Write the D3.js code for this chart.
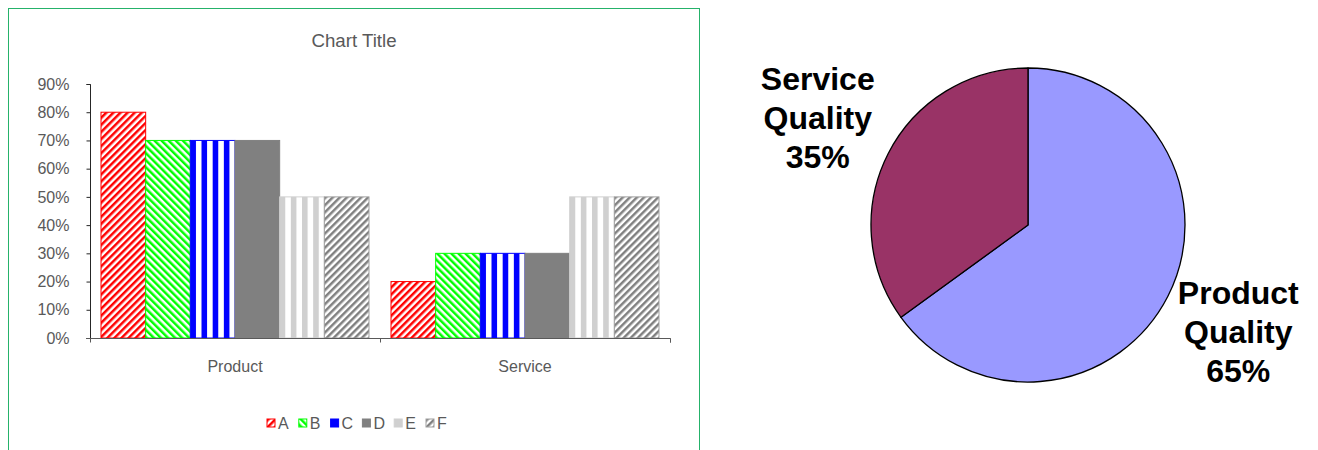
<!DOCTYPE html>
<html>
<head>
<meta charset="utf-8">
<script src="https://cdn.jsdelivr.net/npm/d3@7"></script>
<style>
  body { margin: 0; background: #fff; }
  svg { display: block; font-family: "Liberation Sans", Arial, sans-serif; }
</style>
</head>
<body>
<svg id="chart" width="1318" height="450"></svg>
<script>
// bar chart data
var categories = ["Product", "Service"];
var seriesNames = ["A", "B", "C", "D", "E", "F"];
var productValues = [0.8, 0.7, 0.7, 0.7, 0.5, 0.5];
var serviceValues = [0.2, 0.3, 0.3, 0.3, 0.5, 0.5];
var yTicks = [0, 0.1, 0.2, 0.3, 0.4, 0.5, 0.6, 0.7, 0.8, 0.9];

// pie data
var pieLabels = ["Product Quality", "Service Quality"];
var pieValues = [65, 35];

var svg = d3.select("#chart"),
    defs = svg.append("defs");

// fill patterns, one per series
function _stripes(id, color, angle, size) {
  var p = defs.append("pattern")
      .attr("id", id)
      .attr("patternUnits", "userSpaceOnUse")
      .attr("width", size).attr("height", size)
      .attr("patternTransform", "rotate(" + angle + ")");
  p.append("rect").attr("width", size).attr("height", size).attr("fill", "#fff");
  p.append("rect").attr("width", size / 2).attr("height", size).attr("fill", color);
}

function _vstripes(id, color) {
  var p = defs.append("pattern")
      .attr("id", id)
      .attr("patternUnits", "objectBoundingBox")
      .attr("width", 0.25).attr("height", 1);
  p.append("rect").attr("width", 20).attr("height", 400).attr("fill", "#fff");
  p.append("rect").attr("width", 5.6).attr("height", 400).attr("fill", color);
}

_stripes("patA", "#ff0000", 45, 5);
_stripes("patB", "#00ff00", -45, 5);
_vstripes("patC", "#0000ff");
_vstripes("patE", "#d0d0d0");
_stripes("patF", "#808080", 45, 5);

var fills = ["url(#patA)", "url(#patB)", "url(#patC)", "#808080", "url(#patE)", "url(#patF)"],
    strokes = ["#ff0000", "#00ff00", "#0000ff", "#808080", "#d0d0d0", "#a0a0a0"];

// frame round the bar chart
svg.append("rect")
   .attr("x", 8.5).attr("y", 8.5)
   .attr("width", 691).attr("height", 460)
   .attr("fill", "none")
   .attr("stroke", "#25b26a");

svg.append("text")
   .attr("x", 354).attr("y", 47)
   .attr("text-anchor", "middle")
   .attr("font-size", 18.7)
   .attr("fill", "#595959")
   .text("Chart Title");

var y = d3.scaleLinear().domain([0, 0.9]).range([338, 84]),
    x0 = d3.scaleBand().domain(categories).range([90, 670]),
    x1 = d3.scaleBand().domain(seriesNames).range([11, x0.bandwidth() - 11]);

var data = categories.map(function (c, i) {
  var vals = i == 0 ? productValues : serviceValues;
  return { cat: c, bars: seriesNames.map(function (s, j) { return { s: s, i: j, v: vals[j] }; }) };
});

// y axis
var yAxis = svg.append("g")
   .attr("transform", "translate(90.5,0)")
   .call(d3.axisLeft(y).tickValues(yTicks).tickFormat(d3.format(".0%")).tickSize(4));
yAxis.select(".domain").attr("stroke", "#262626").attr("d", "M-4,84.5H0V338.5");
yAxis.selectAll(".tick line").attr("stroke", "#262626");
yAxis.selectAll(".tick text")
     .attr("x", -21)
     .attr("font-size", 16)
     .attr("font-family", "Liberation Sans, Arial, sans-serif")
     .attr("fill", "#595959");

var groups = svg.selectAll("g.cat").data(data).enter()
    .append("g")
    .attr("class", "cat")
    .attr("transform", function (d) { return "translate(" + x0(d.cat) + ",0)"; });

groups.selectAll("rect").data(function (d) { return d.bars; }).enter()
      .append("rect")
      .attr("x", function (b) { return x1(b.s); })
      .attr("y", function (b) { return y(b.v); })
      .attr("width", x1.bandwidth())
      .attr("height", function (b) { return y(0) - y(b.v); })
      .attr("fill", function (b) { return fills[b.i]; })
      .attr("stroke", function (b) { return strokes[b.i]; })
      .attr("stroke-width", 1);

// x axis
var xAxis = svg.append("g")
   .attr("transform", "translate(0,338.5)")
   .call(d3.axisBottom(x0).tickSize(0).tickPadding(22));
xAxis.select(".domain").attr("stroke", "#595959").attr("d", "M86,0H670.5V4");
xAxis.selectAll(".tick text")
     .attr("font-size", 16)
     .attr("font-family", "Liberation Sans, Arial, sans-serif")
     .attr("fill", "#595959");
[90.5, 380.5, 670.5].forEach(function (tx) {
  xAxis.append("line").attr("x1", tx).attr("x2", tx).attr("y1", 0).attr("y2", 4)
       .attr("stroke", "#595959");
});

// legend
var legend = svg.selectAll("g.legend").data(seriesNames).enter()
    .append("g")
    .attr("class", "legend")
    .attr("transform", function (d, i) { return "translate(" + (267 + i * 31.8) + ",419)"; });
legend.append("rect")
      .attr("width", 8).attr("height", 8)
      .attr("fill", function (d, i) { return fills[i] == "url(#patC)" || fills[i] == "url(#patE)" ? strokes[i] : fills[i]; })
      .attr("stroke", function (d, i) { return strokes[i]; })
      .attr("stroke-width", 1);
legend.append("text")
      .attr("x", 11).attr("y", 9.5)
      .attr("font-size", 16)
      .attr("fill", "#595959")
      .text(function (d) { return d; });

// pie
var cx = 1028, cy = 225, r = 157;
var pie = d3.pie().sort(null)(pieValues),
    arc = d3.arc().innerRadius(0).outerRadius(r),
    labelArc = d3.arc().innerRadius(236).outerRadius(236),
    pieColors = ["#9999ff", "#993366"];

var pg = svg.append("g").attr("transform", "translate(" + cx + "," + cy + ")");
pg.selectAll("path").data(pie).enter()
  .append("path")
  .attr("d", arc)
  .attr("fill", function (d, i) { return pieColors[i]; })
  .attr("stroke", "#000")
  .attr("stroke-width", 1.3)
  .attr("stroke-linejoin", "round");

pg.selectAll("text").data(pie).enter()
  .append("text")
  .attr("text-anchor", "middle")
  .attr("font-size", 32)
  .attr("font-weight", "bold")
  .attr("fill", "#000")
  .each(function (d, i) {
    var c = labelArc.centroid(d),
        words = pieLabels[i].split(" ").concat([d.value + "%"]),
        t = d3.select(this);
    words.forEach(function (w, k) {
      t.append("tspan")
       .attr("x", c[0])
       .attr("y", c[1] + 11 + (k - 1) * 39)
       .text(w);
    });
  });
</script>
</body>
</html>
